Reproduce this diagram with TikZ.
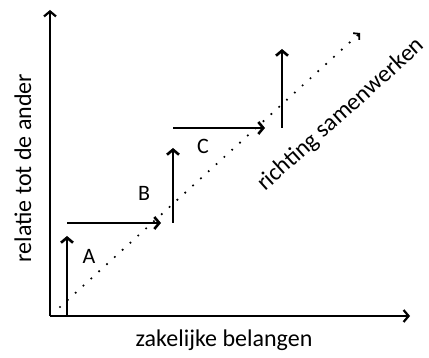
\documentclass[tikz,border=0pt]{standalone}
\usepackage{fontspec}
\setmainfont{Carlito}
\usetikzlibrary{arrows.meta,positioning}
\tikzset{
 axisline/.style={
 line width=2.2pt,
 -{Straight Barb[length=5pt,width=12pt]}
 },
 steparrow/.style={
 line width=2.6pt,
 -{Straight Barb[length=5pt,width=12pt]}
 },
 trendline/.style={
 line width=2.4pt,
 line cap=round,
 dash pattern=on 0pt off 10.6pt,
 -{Straight Barb[length=4pt,width=9pt,line cap=butt,line width=1.8pt]}
 },
 axislabel/.style={
 font=\fontsize{24}{27}\selectfont,
 inner sep=0pt
 },
 steplabel/.style={
 font=\fontsize{22}{25}\selectfont,
 inner sep=0pt
 }
}

\begin{document}
\begin{tikzpicture}[x=1pt,y=-1pt]
 \useasboundingbox (0,0) rectangle (429,358);

 % axes
 \coordinate (origin) at (50,316);
 \coordinate (ytop) at (50,10);
 \coordinate (xend) at (410,316);
 \draw[axisline] (origin) -- (ytop);
 \draw[axisline] (origin) -- (xend);

 % steps
 \coordinate (a0) at (67,316);
 \coordinate (a1) at (67,236);
 \coordinate (b0) at (67,223);
 \coordinate (b1) at (161,223);
 \coordinate (c0) at (173,223);
 \coordinate (c1) at (173,148);
 \coordinate (d0) at (173,128);
 \coordinate (d1) at (265,128);
 \coordinate (e0) at (282,128);
 \coordinate (e1) at (282,49);
 \draw[steparrow] (a0) -- (a1);
 \draw[steparrow] (b0) -- (b1);
 \draw[steparrow] (c0) -- (c1);
 \draw[steparrow] (d0) -- (d1);
 \draw[steparrow] (e0) -- (e1);

 % direction
 \coordinate (t0) at (60,307);
 \coordinate (t1) at (360,33);
 \draw[trendline] (t0) -- (t1);

 \node[steplabel] (labA) at (89,256) {A};
 \node[steplabel] (labB) at (144,193) {B};
 \node[steplabel] (labC) at (203,146) {C};

 \node[axislabel, rotate=90] (ylab) at (23,168) {relatie tot de ander};
 \node[axislabel] (xlab) at (224,340) {zakelijke belangen};
 \node[axislabel, rotate=42] (dirlab) at (341,115) {richting samenwerken};
\end{tikzpicture}
\end{document}
